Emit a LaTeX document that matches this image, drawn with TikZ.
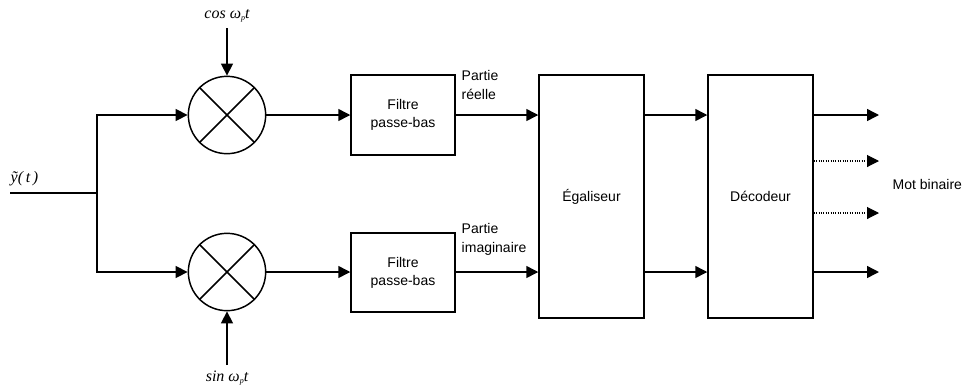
\documentclass[tikz,border=0pt]{standalone}
\usepackage{fontspec}
\setsansfont{Liberation Sans}
\newfontfamily\timesit[ItalicFont={Liberation Serif Italic}]{Liberation Serif}
\usetikzlibrary{arrows.meta}
\begin{document}
\begin{tikzpicture}[x=0.75pt,y=-0.75pt,
  line width=1.1pt,
  arr/.style={-{Triangle[length=9pt,width=9pt]}},
  mixer/.style={circle,draw,minimum size=58pt,inner sep=0pt},
  blk/.style={draw,rectangle,inner sep=0pt,font=\sffamily\fontsize{10.5}{13.5}\selectfont,align=center},
  lbl/.style={font=\sffamily\fontsize{10.5}{14}\selectfont,align=left,inner sep=0pt},
  mlbl/.style={inner sep=0pt,font=\timesit\itshape\fontsize{12}{14}\selectfont}]
\useasboundingbox (0,0) rectangle (965,387);
% mixers
\node[mixer] (m1) at (227,115) {};
\node[mixer] (m2) at (227,272) {};
\foreach \m in {m1,m2}{
  \draw (\m.45) -- (\m.225);
  \draw (\m.135) -- (\m.315);
}
% blocks
\node[blk,minimum width=78pt,minimum height=60pt] (f1) at (403,115) {Filtre\\passe-bas};
\node[blk,minimum width=78pt,minimum height=59pt] (f2) at (403,272.5) {Filtre\\passe-bas};
\node[blk,minimum width=78.75pt,minimum height=182pt] (eq) at (591.5,196.5) {Égaliseur};
\node[blk,minimum width=78.75pt,minimum height=182pt] (dec) at (760.5,196.5) {Décodeur};
% input
\coordinate (in) at (10,193);
\coordinate (j) at (97,193);
\node[mlbl,anchor=south west] (ylab) at (10,187) {ỹ(\,t\,)};
\draw (in) -- (j);
\draw[arr] (j) |- (m1.west);
\draw[arr] (j) |- (m2.west);
% carriers
\coordinate (c) at (227,28);
\coordinate (s) at (227,365);
\node[mlbl] (clab) at (227,16) {cos ω\raisebox{-0.35ex}{\fontsize{6}{6}\selectfont p}t};
\node[mlbl] (slab) at (227,378) {sin ω\raisebox{-0.35ex}{\fontsize{6}{6}\selectfont p}t};
\draw[arr] (c) -- (m1.north);
\draw[arr] (s) -- (m2.south);
% mixers to filters
\draw[arr] (m1.east) -- (f1.west);
\draw[arr] (m2.east) -- (f2.west |- m2.east);
% filters to equalizer
\draw[arr] (f1.east) -- (f1.east -| eq.west);
\draw[arr] (f2.east |- m2) -- (m2 -| eq.west);
\node[lbl,anchor=north west] (pr) at (461,70) {Partie\\réelle};
\node[lbl,anchor=north west] (pi) at (461,223) {Partie\\imaginaire};
% equalizer to decoder
\draw[arr] (eq.east |- m1) -- (dec.west |- m1);
\draw[arr] (eq.east |- m2) -- (dec.west |- m2);
% outputs
\coordinate (o1) at (879,115);
\coordinate (o2) at (879,161);
\coordinate (o3) at (879,213);
\coordinate (o4) at (879,272);
\draw[arr] (dec.east |- o1) -- (o1);
\draw[arr,densely dotted,line width=0.8pt] (dec.east |- o2) -- (o2);
\draw[arr,densely dotted,line width=0.8pt] (dec.east |- o3) -- (o3);
\draw[arr] (dec.east |- o4) -- (o4);
\node[lbl,anchor=west] (mot) at (892,184) {Mot binaire};
\end{tikzpicture}
\end{document}
